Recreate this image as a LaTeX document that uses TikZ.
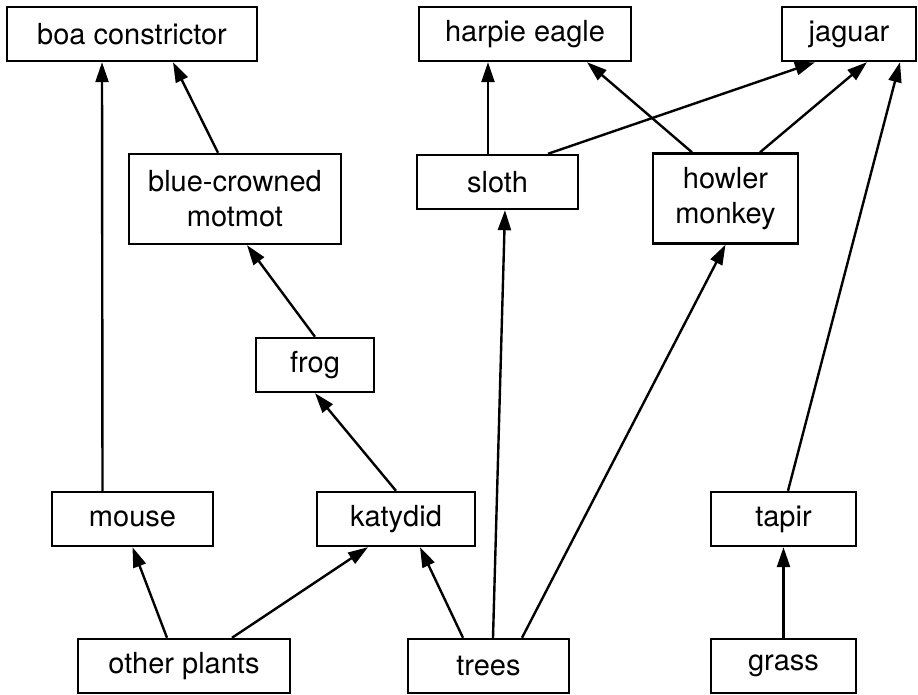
\documentclass[tikz,border=0pt]{standalone}
\usepackage{fontspec}
\setmainfont{TeX Gyre Heros}
\usetikzlibrary{arrows.meta}

\begin{document}
\begin{tikzpicture}[x=0.5pt,y=-0.5pt,->,>={Triangle[length=10pt,width=6.5pt]},
                    line width=1.2pt,
                    species/.style={draw,rectangle,inner sep=0pt,minimum height=27pt,
                                    align=center,font=\fontsize{14.5}{17.5}\selectfont},
                    tall/.style={minimum height=45pt}]
\useasboundingbox (0,0) rectangle (918,695);
% top level
\node[species,minimum width=125pt] (boa) at (132,34) {boa constrictor};
\node[species,minimum width=106pt] (eagle) at (525,34) {harpie eagle};
\node[species,minimum width=67pt] (jaguar) at (849,34) {jaguar};
% middle
\node[species,tall,minimum width=106pt] (motmot) at (235,199) {blue-crowned\\motmot};
\node[species,minimum width=80.5pt] (sloth) at (497.5,182) {sloth};
\node[species,tall,minimum width=72.5pt] (howler) at (725.5,198.5) {howler\\monkey};
\node[species,minimum width=59pt] (frog) at (315,365) {frog};
\node[species,minimum width=80.5pt] (mouse) at (132.5,519) {mouse};
\node[species,minimum width=79pt] (katydid) at (396,519) {katydid};
\node[species,minimum width=72.5pt] (tapir) at (783.5,519) {tapir};
% producers
\node[species,minimum width=106pt] (plants) at (184,666) {other plants};
\node[species,minimum width=80.5pt] (trees) at (488.5,666) {trees};
\node[species,minimum width=72.5pt] (grass) at (783.5,666) {grass};
\path ([xshift=-15pt]mouse.north) edge ([xshift=-15pt]boa.south)
      ([xshift=-8.5pt]motmot.north) edge ([xshift=20.5pt]boa.south)
      (frog.north) edge ([xshift=6pt]motmot.south)
      (katydid.north) edge (frog.south)
      ([xshift=-8.5pt]plants.north) edge (mouse.south)
      ([xshift=24pt]plants.north) edge ([xshift=-14pt]katydid.south)
      ([xshift=-12.75pt]trees.north) edge ([xshift=12pt]katydid.south)
      ([xshift=2.25pt]trees.north) edge ([xshift=3.75pt]sloth.south)
      ([xshift=16.75pt]trees.north) edge (howler.south)
      ([xshift=-4.75pt]sloth.north) edge ([xshift=-18.5pt]eagle.south)
      ([xshift=25.25pt]sloth.north) edge ([xshift=-17pt]jaguar.south)
      ([xshift=-16.75pt]howler.north) edge ([xshift=31pt]eagle.south)
      ([xshift=17.25pt]howler.north) edge ([xshift=9pt]jaguar.south)
      ([xshift=2.25pt]tapir.north) edge ([xshift=25.5pt]jaguar.south)
      (grass.north) edge (tapir.south);
\end{tikzpicture}
\end{document}
